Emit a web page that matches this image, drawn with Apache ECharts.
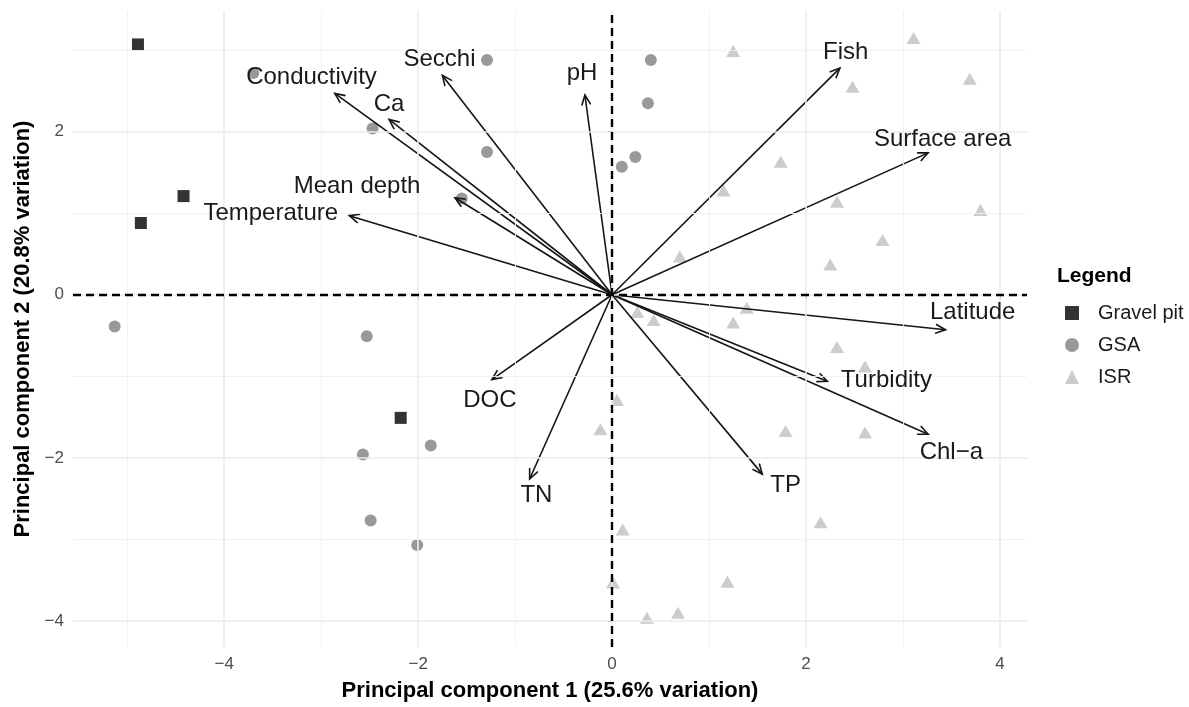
<!DOCTYPE html>
<html><head><meta charset="utf-8">
<script src="https://cdn.jsdelivr.net/npm/echarts@6/dist/echarts.min.js"></script>
<style>html,body{margin:0;padding:0;background:#fff}#c{width:1189px;height:707px}</style>
</head><body><div id="c"></div>
<script>
// ---- data ----
const gravelPit = [[-4.89,3.07],[-4.42,1.21],[-4.86,0.88],[-2.18,-1.51]];
const gsa = [[-3.70,2.72],[-2.47,2.04],[-1.29,1.75],[-1.29,2.88],[0.40,2.88],[0.37,2.35],[0.24,1.69],[0.10,1.57],[-1.55,1.18],[-5.13,-0.39],[-2.53,-0.51],[-2.57,-1.96],[-2.49,-2.77],[-1.87,-1.85],[-2.01,-3.07]];
const isr = [[1.25,2.99],[3.11,3.15],[3.69,2.65],[2.48,2.55],[1.74,1.63],[1.15,1.28],[2.32,1.14],[3.80,1.04],[2.79,0.67],[2.25,0.37],[0.70,0.47],[1.39,-0.16],[1.25,-0.34],[0.26,-0.21],[0.43,-0.31],[2.32,-0.64],[2.61,-0.88],[0.05,-1.29],[-0.12,-1.65],[1.79,-1.67],[2.61,-1.69],[0.11,-2.88],[2.15,-2.79],[1.19,-3.52],[0.01,-3.53],[0.36,-3.96],[0.68,-3.90]];
const loadingNames = ['Conductivity','Ca','Secchi','pH','Mean depth','Temperature','Fish','Surface area','Latitude','Turbidity','Chl\u2212a','TP','TN','DOC'];
const loadingTips = [[-2.86,2.47],[-2.30,2.15],[-1.75,2.69],[-0.28,2.45],[-1.62,1.19],[-2.71,0.97],[2.35,2.78],[3.26,1.74],[3.44,-0.43],[2.22,-1.06],[3.26,-1.71],[1.55,-2.20],[-0.85,-2.26],[-1.24,-1.04]];
const labelPos = [[-3.10,2.66],[-2.30,2.33],[-1.78,2.89],[-0.31,2.72],[-2.63,1.33],[-3.52,1.00],[2.41,2.97],[3.41,1.91],[3.72,-0.21],[2.83,-1.05],[3.50,-1.93],[1.79,-2.34],[-0.78,-2.46],[-1.26,-1.29]];
const xTicks = [-4,-2,0,2,4];
const yTicks = [-4,-2,0,2];
const xMinor = [-5,-3,-1,1,3];
const yMinor = [-3,-1,1,3];
const seriesNames = ['Gravel pit','GSA','ISR'];

const FONT = '"Liberation Sans", Arial, Helvetica, sans-serif';
const major = {color:'#ebebeb', width:1.6, type:'solid'};
const minor = {color:'#f1f1f1', width:0.9, type:'solid'};
const fmt = v => String(v).replace('-', '\u2212');

const chart = echarts.init(document.getElementById('c'));
chart.setOption({
  animation: false,
  backgroundColor: '#ffffff',
  textStyle: {fontFamily: FONT},
  grid: {left: 73, right: 162, top: 11, bottom: 59},
  title: {text: 'Legend', left: 1057, top: 266, padding: 0,
    textStyle: {fontFamily: FONT, fontSize: 21, fontWeight: 'bold', color: '#000'}},
  legend: {orient: 'vertical', left: 1065, top: 303, padding: 0, itemWidth: 14, itemHeight: 14, itemGap: 12,
    data: seriesNames, textStyle: {fontFamily: FONT, fontSize: 20, lineHeight: 16, color: '#1a1a1a', padding: [0,0,0,14]}},
  xAxis: {type: 'value', min: -5.56, max: 4.28,
    splitLine: {show: false}, axisLine: {show: false},
    axisTick: {show: true, length: 4, customValues: xTicks, lineStyle: {color: '#555'}},
    axisLabel: {customValues: xTicks, formatter: fmt, color: '#4d4d4d', fontSize: 17, margin: 9, fontFamily: FONT},
    name: 'Principal component 1 (25.6% variation)', nameLocation: 'middle', nameGap: 33,
    nameTextStyle: {fontFamily: FONT, fontSize: 22, fontWeight: 'bold', color: '#000'}},
  yAxis: {type: 'value', min: -4.32, max: 3.48,
    splitLine: {show: false}, axisLine: {show: false},
    axisTick: {show: true, length: 4, customValues: yTicks, lineStyle: {color: '#555'}},
    axisLabel: {customValues: yTicks, formatter: fmt, color: '#4d4d4d', fontSize: 17, margin: 9, fontFamily: FONT},
    name: 'Principal component 2 (20.8% variation)', nameLocation: 'middle', nameGap: 38,
    nameTextStyle: {fontFamily: FONT, fontSize: 22, fontWeight: 'bold', color: '#000'}},
  series: [
    {type: 'scatter', data: [], z: 1, silent: true,
      markLine: {silent: true, symbol: ['none','none'], label: {show: false}, animation: false,
        data: [
          ...xMinor.map(v => ({xAxis: v, lineStyle: minor})),
          ...yMinor.map(v => ({yAxis: v, lineStyle: minor})),
          ...xTicks.map(v => ({xAxis: v, lineStyle: major})),
          ...yTicks.map(v => ({yAxis: v, lineStyle: major}))
        ]}},
    {name: 'Gravel pit', type: 'scatter', z: 2, data: gravelPit, symbol: 'rect', symbolSize: 12,
      itemStyle: {color: '#333333', opacity: 1}},
    {name: 'GSA', type: 'scatter', z: 2, data: gsa, symbol: 'circle', symbolSize: 12,
      itemStyle: {color: '#999999', opacity: 1}},
    {name: 'ISR', type: 'scatter', z: 2, data: isr, symbol: 'triangle', symbolSize: [14, 12],
      itemStyle: {color: '#cccccc', opacity: 1}},
    {type: 'scatter', data: [], z: 3, silent: true,
      markLine: {silent: true, symbol: ['none','none'], label: {show: false}, animation: false,
        lineStyle: {color: '#000', width: 2.4, type: [8, 5]},
        data: [{xAxis: 0}, {yAxis: 0}]}},
    {type: 'custom', z: 4, silent: true, data: loadingTips,
      renderItem: function (params, api) {
        const o = api.coord([0, 0]);
        const p = api.coord([api.value(0), api.value(1)]);
        const ang = Math.atan2(p[1] - o[1], p[0] - o[0]);
        const L = 11, a = Math.PI / 7.5;
        const h1 = [p[0] - L * Math.cos(ang - a), p[1] - L * Math.sin(ang - a)];
        const h2 = [p[0] - L * Math.cos(ang + a), p[1] - L * Math.sin(ang + a)];
        return {type: 'group', children: [
          {type: 'line', shape: {x1: o[0], y1: o[1], x2: p[0], y2: p[1]}, style: {stroke: '#151515', lineWidth: 1.6}},
          {type: 'polyline', shape: {points: [h1, p, h2]}, style: {stroke: '#151515', lineWidth: 1.6, fill: null}}
        ]};
      }},
    {type: 'custom', z: 5, silent: true, data: labelPos,
      renderItem: function (params, api) {
        const p = api.coord([api.value(0), api.value(1)]);
        return {type: 'text', x: p[0], y: p[1], style: {text: loadingNames[params.dataIndex],
          fill: '#1a1a1a', fontSize: 24, fontFamily: FONT, align: 'center', verticalAlign: 'middle'}};
      }}
  ]
});
</script></body></html>
